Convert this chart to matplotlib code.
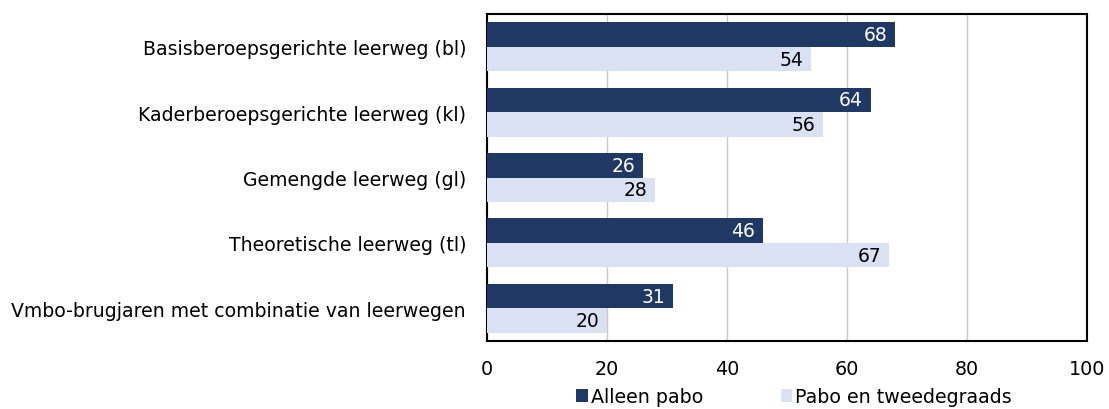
import numpy as np
import matplotlib.pyplot as plt

categorieen = [
    'Basisberoepsgerichte leerweg (bl)',
    'Kaderberoepsgerichte leerweg (kl)',
    'Gemengde leerweg (gl)',
    'Theoretische leerweg (tl)',
    'Vmbo-brugjaren met combinatie van leerwegen',
]
alleen_pabo = [68, 64, 26, 46, 31]
pabo_tweedegraads = [54, 56, 28, 67, 20]
x_ticks = [0, 20, 40, 60, 80, 100]

donker = '#203864'
licht = '#D9E1F2'

plt.rcParams['font.family'] = ['DejaVu Sans']
fig = plt.figure(figsize=(11.09, 4.10), dpi=100)
ax = fig.add_axes([0.439, 0.166, 0.541, 0.797])

y = np.arange(len(categorieen))
h = 0.375
b1 = ax.barh(y - h / 2, alleen_pabo, height=h, color=donker, label='Alleen pabo', zorder=3)
b2 = ax.barh(y + h / 2, pabo_tweedegraads, height=h, color=licht, label='Pabo en tweedegraads', zorder=3)

for rect, v in zip(b1, alleen_pabo):
    ax.text(rect.get_width() - 1.3, rect.get_y() + rect.get_height() / 2, str(v),
            ha='right', va='center', color='white', fontsize=13.5, zorder=4)
for rect, v in zip(b2, pabo_tweedegraads):
    ax.text(rect.get_width() - 1.3, rect.get_y() + rect.get_height() / 2, str(v),
            ha='right', va='center', color='black', fontsize=13.5, zorder=4)

ax.set_ylim(len(categorieen) - 0.5, -0.5)
ax.set_xlim(0, 100)
ax.set_yticks(y)
ax.set_yticklabels(categorieen, fontsize=13.6)
ax.set_xticks(x_ticks)
ax.tick_params(axis='x', labelsize=13.8, length=0, pad=13)
ax.tick_params(axis='y', length=0, pad=15)
ax.grid(axis='x', color='#c8c8c8', linewidth=1, zorder=0)
for s in ax.spines.values():
    s.set_color('black')
    s.set_linewidth(1.5)

ax.legend(loc='upper center', bbox_to_anchor=(0.512, -0.118), ncol=2, frameon=False,
          fontsize=13.7, handlelength=0.6, handleheight=0.65, handletextpad=0.15,
          columnspacing=4.1, borderaxespad=0)

fig.savefig('out.png', dpi=100)
